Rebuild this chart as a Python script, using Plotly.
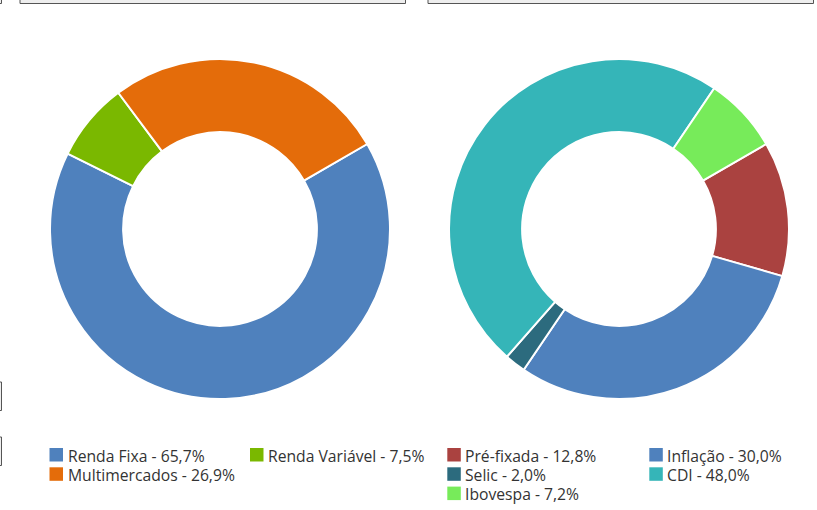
import plotly.graph_objects as go

W, H = 817, 510

# ---- data ----
left_labels = ["Renda Fixa", "Renda Variável", "Multimercados"]
left_values = [65.7, 7.5, 26.9]
left_colors = ["#4f81bd", "#7ab800", "#e46c0a"]

right_labels = ["Pré-fixada", "Inflação", "Selic", "CDI", "Ibovespa"]
right_values = [12.8, 30.0, 2.0, 48.0, 7.2]
right_colors = ["#aa4240", "#4f81bd", "#2c6b7e", "#35b5b8", "#77eb5a"]


def px(x):
    return x / W


def py(y):
    return 1 - y / H


def fmt(label, v):
    return f"{label} - " + f"{v:.1f}".replace(".", ",") + "%"


fig = go.Figure()

pie_style = dict(sort=False, direction="clockwise", rotation=60, hole=0.57,
                 textinfo="none", showlegend=False, hoverinfo="label+percent")

fig.add_trace(go.Pie(labels=left_labels, values=left_values,
                     marker=dict(colors=left_colors, line=dict(color="white", width=2)),
                     domain=dict(x=[px(50), px(390)], y=[py(399), py(59)]),
                     **pie_style))
fig.add_trace(go.Pie(labels=right_labels, values=right_values,
                     marker=dict(colors=right_colors, line=dict(color="white", width=2)),
                     domain=dict(x=[px(449), px(789)], y=[py(399), py(59)]),
                     **pie_style))

shapes = []
annotations = []

# ---- legends (two columns, row-major) ----
SQ = 13.5
ROW0 = 448.0
ROW_STEP = 19.3
TEXT_GAP = 4.5
legend_specs = [
    (left_labels, left_values, left_colors, 49.5, 200.5),
    (right_labels, right_values, right_colors, 447.3, 202.0),
]
for labels, values, colors, x0, colstep in legend_specs:
    for i, (lab, val, col) in enumerate(zip(labels, values, colors)):
        r, c = divmod(i, 2)
        mx = x0 + c * colstep
        my = ROW0 + r * ROW_STEP
        shapes.append(dict(type="rect", xref="paper", yref="paper",
                           x0=px(mx), x1=px(mx + SQ), y0=py(my + SQ), y1=py(my),
                           fillcolor=col, line=dict(width=0), layer="above"))
        annotations.append(dict(xref="paper", yref="paper",
                                x=px(mx + SQ + TEXT_GAP), y=py(my + SQ / 2 + 1),
                                xanchor="left", yanchor="middle", showarrow=False,
                                text=fmt(lab, val), borderpad=0, borderwidth=0,
                                font=dict(family="Open Sans", size=15.7, color="#333333")))

# ---- partially visible frames at the edges ----
frame = dict(type="rect", xref="paper", yref="paper", fillcolor="#eeeeee",
             line=dict(color="#555555", width=1), layer="above")
for (a, b, c, d) in [(20, 405.5, -60, 3.5), (428, 813.5, -60, 3.5), (-60, 1.5, -60, 3.5),
                     (-60, 1.5, 382, 410.5), (-60, 1.5, 437, 465.5)]:
    shapes.append(dict(frame, x0=px(a), x1=px(b), y0=py(d), y1=py(c)))

fig.update_layout(width=W, height=H, margin=dict(l=0, r=0, t=0, b=0),
                  paper_bgcolor="white", plot_bgcolor="white",
                  showlegend=False, shapes=shapes, annotations=annotations,
                  font=dict(family="Open Sans"))

fig.write_html("out.html", config={"displayModeBar": False},
               post_script="document.body.style.margin='0';document.body.style.overflow='hidden';")
